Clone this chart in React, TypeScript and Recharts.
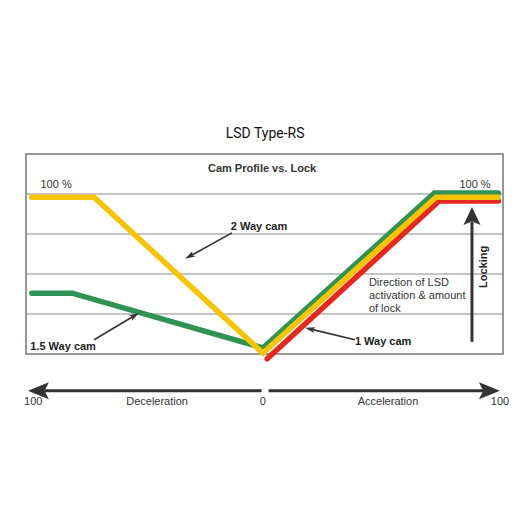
import React from 'react';
import { ComposedChart, Line, XAxis, YAxis, ReferenceLine, ReferenceArea, ReferenceDot } from 'recharts';

// Series (x: -100 deceleration .. 100 acceleration, y: lock %)
const twoWayCam = [
  { x: -100, y: 98 },
  { x: -73.3, y: 98 },
  { x: -1, y: 0.6 },
  { x: 73.3, y: 98 },
  { x: 100, y: 98 },
];
const oneHalfWayCam = [
  { x: -100, y: 38 },
  { x: -82.7, y: 38 },
  { x: -1, y: 3.8 },
  { x: 72.6, y: 100.6 },
  { x: 100, y: 100.6 },
];
const oneWayCam = [
  { x: 0.9, y: -3 },
  { x: 74.6, y: 95.6 },
  { x: 100, y: 95.6 },
];

const gridValues = [25, 50, 75, 100];

// Annotations in data coordinates
const texts = [
  { x: 0, y: 138.2, text: 'LSD Type-RS', size: 14, weight: 400, family: 'Roboto', anchor: 'middle', color: '#111' },
  { x: -1.3, y: 116.3, text: 'Cam Profile vs. Lock', size: 11, weight: 700, family: 'Liberation Sans', anchor: 'middle', color: '#333' },
  { x: -89.6, y: 106.3, text: '100 %', size: 11, weight: 400, family: 'Liberation Sans', anchor: 'middle', color: '#333' },
  { x: 90, y: 106.3, text: '100 %', size: 11, weight: 400, family: 'Liberation Sans', anchor: 'middle', color: '#333' },
  { x: -2.6, y: 80, text: '2 Way cam', size: 11, weight: 700, family: 'Liberation Sans', anchor: 'middle', color: '#222' },
  { x: -86.6, y: 5.1, text: '1.5 Way cam', size: 11, weight: 700, family: 'Liberation Sans', anchor: 'middle', color: '#222' },
  { x: 38.5, y: 8.2, text: '1 Way cam', size: 11, weight: 700, family: 'Liberation Sans', anchor: 'start', color: '#222' },
  { x: 44.5, y: 45.1, text: 'Direction of LSD', size: 11, weight: 400, family: 'Liberation Sans', anchor: 'start', color: '#333' },
  { x: 44.5, y: 37.0, text: 'activation & amount', size: 11, weight: 400, family: 'Liberation Sans', anchor: 'start', color: '#333' },
  { x: 44.5, y: 28.9, text: 'of lock', size: 11, weight: 400, family: 'Liberation Sans', anchor: 'start', color: '#333' },
  { x: -99.4, y: -29.2, text: '100', size: 11, weight: 400, family: 'Liberation Sans', anchor: 'middle', color: '#333' },
  { x: -46.3, y: -29.2, text: 'Deceleration', size: 11, weight: 400, family: 'Liberation Sans', anchor: 'middle', color: '#333' },
  { x: -1, y: -29.2, text: '0', size: 11, weight: 400, family: 'Liberation Sans', anchor: 'middle', color: '#333' },
  { x: 52.7, y: -29.2, text: 'Acceleration', size: 11, weight: 400, family: 'Liberation Sans', anchor: 'middle', color: '#333' },
  { x: 100.7, y: -29.2, text: '100', size: 11, weight: 400, family: 'Liberation Sans', anchor: 'middle', color: '#333' },
];
const rotatedTexts = [{ x: 93.4, y: 54.5, text: 'Locking' }];

// Arrows: from tail to tip
const pointerArrows = [
  { from: { x: -14.2, y: 75.7 }, to: { x: -34.3, y: 59.5 } },
  { from: { x: -73.3, y: 8.9 }, to: { x: -54.0, y: 25.7 } },
  { from: { x: 38.5, y: 8.9 }, to: { x: 17.1, y: 16.4 } },
];
const lockingArrow = { from: { x: 88.7, y: 7.6 }, to: { x: 88.7, y: 91.9 } };
const axisArrows = [
  { from: { x: -1.5, y: -23 }, to: { x: -101.7, y: -23 } },
  { from: { x: 1.5, y: -23 }, to: { x: 100.7, y: -23 } },
];

const arrowShape = (headLen: number, headW: number, sw: number, color: string) => (p: any) => {
  const { x1, y1, x2, y2 } = p;
  const dx = x2 - x1;
  const dy = y2 - y1;
  const len = Math.sqrt(dx * dx + dy * dy) || 1;
  const ux = dx / len;
  const uy = dy / len;
  const bx = x2 - ux * headLen;
  const by = y2 - uy * headLen;
  const px = -uy * (headW / 2);
  const py = ux * (headW / 2);
  const nx = x2 - ux * headLen * 0.8;
  const ny = y2 - uy * headLen * 0.8;
  return (
    <g>
      <line x1={x1} y1={y1} x2={nx} y2={ny} stroke={color} strokeWidth={sw} />
      <polygon points={`${x2},${y2} ${bx + px},${by + py} ${nx},${ny} ${bx - px},${by - py}`} fill={color} />
    </g>
  );
};

export default function App() {
  return (
    <div style={{ position: 'absolute', left: 0, top: 0, width: 530, height: 530, background: '#fff' }}>
      <ComposedChart width={530} height={530} margin={{ top: 154, right: 27, bottom: 128, left: 26 }}>
        <XAxis type="number" dataKey="x" domain={[-102.5, 102]} hide allowDataOverflow />
        <YAxis type="number" dataKey="y" domain={[-30, 125]} hide />
        {gridValues.map((v) => (
          <ReferenceLine key={v} y={v} stroke="#8a8a8a" strokeWidth={1.2} />
        ))}
        <ReferenceArea x1={-102.5} x2={102} y1={0} y2={125} fill="none" fillOpacity={0} stroke="#777" strokeWidth={1.5} />
        <Line data={oneWayCam} dataKey="y" type="linear" stroke="#e8261e" strokeWidth={5.5} dot={false} isAnimationActive={false} strokeLinecap="round" />
        <Line data={oneHalfWayCam} dataKey="y" type="linear" stroke="#2f9354" strokeWidth={5.5} dot={false} isAnimationActive={false} strokeLinecap="round" />
        <Line data={twoWayCam} dataKey="y" type="linear" stroke="#f6c400" strokeWidth={5.5} dot={false} isAnimationActive={false} strokeLinecap="round" />
        {pointerArrows.map((a, i) => (
          <ReferenceLine key={'pa' + i} segment={[a.from, a.to]} ifOverflow="visible" shape={arrowShape(10, 6, 1.6, '#333')} />
        ))}
        <ReferenceLine segment={[lockingArrow.from, lockingArrow.to]} ifOverflow="visible" shape={arrowShape(18, 17, 3, '#333')} />
        {axisArrows.map((a, i) => (
          <ReferenceLine key={'ax' + i} segment={[a.from, a.to]} ifOverflow="visible" shape={arrowShape(21, 17, 3, '#333')} />
        ))}
        {texts.map((t, i) => (
          <ReferenceDot
            key={'t' + i}
            x={t.x}
            y={t.y}
            r={0}
            ifOverflow="visible"
            shape={(p: any) => (
              <text
                x={p.cx}
                y={p.cy}
                textAnchor={t.anchor as any}
                dominantBaseline="central"
                fontSize={t.size}
                fontWeight={t.weight}
                fontFamily={t.family}
                fill={t.color}
              >
                {t.text}
              </text>
            )}
          />
        ))}
        {rotatedTexts.map((t, i) => (
          <ReferenceDot
            key={'r' + i}
            x={t.x}
            y={t.y}
            r={0}
            ifOverflow="visible"
            shape={(p: any) => (
              <text
                x={p.cx}
                y={p.cy}
                transform={`rotate(-90 ${p.cx} ${p.cy})`}
                textAnchor="middle"
                dominantBaseline="central"
                fontSize={11}
                fontWeight={700}
                fontFamily="Liberation Sans"
                fill="#222"
              >
                {t.text}
              </text>
            )}
          />
        ))}
      </ComposedChart>
    </div>
  );
}
